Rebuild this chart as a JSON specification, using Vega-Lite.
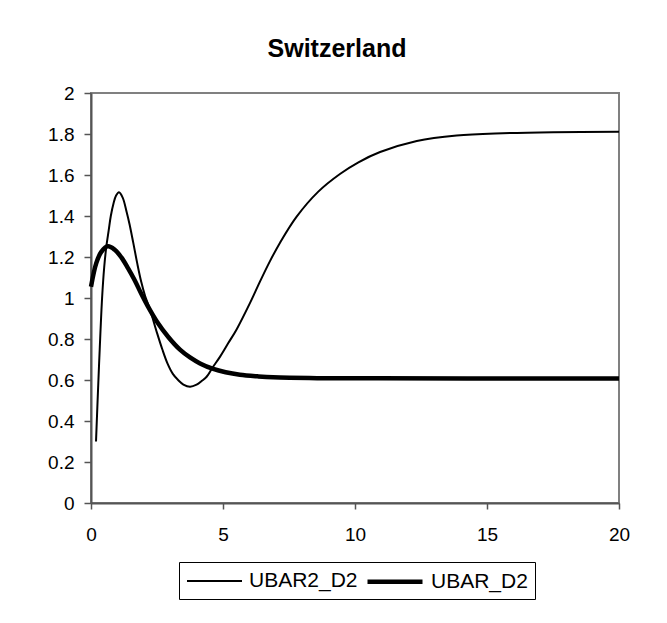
{
  "$schema": "https://vega.github.io/schema/vega-lite/v6.json",
  "width": 528,
  "height": 410,
  "autosize": {"type": "none"},
  "padding": {"left": 91, "top": 93, "right": 48, "bottom": 120},
  "background": "white",
  "title": {
    "text": "Switzerland",
    "font": "Liberation Sans",
    "fontSize": 25,
    "fontWeight": "bold",
    "color": "black",
    "anchor": "middle",
    "dx": -18,
    "offset": 22
  },
  "config": {
    "view": {"stroke": "#808080", "strokeWidth": 2},
    "axis": {
      "labelFont": "Liberation Sans",
      "labelFontSize": 19,
      "labelColor": "black",
      "grid": false,
      "title": null,
      "domainColor": "#555555",
      "domainWidth": 2,
      "tickColor": "#555555",
      "tickWidth": 1.5,
      "tickSize": 6,
      "labelFlush": false,
      "labelOverlap": false
    },
    "legend": {
      "orient": "none",
      "legendX": 88,
      "legendY": 469,
      "direction": "horizontal",
      "strokeColor": "black",
      "padding": 7,
      "labelFont": "Liberation Sans",
      "labelFontSize": 21,
      "labelColor": "black",
      "labelOffset": 41,
      "columnPadding": 0,
      "symbolType": "M-1,0H4.5",
      "symbolSize": 400,
      "symbolStrokeColor": "black",
      "symbolFillColor": "transparent",
      "title": null
    }
  },
  "data": {
    "values": [
      {"series": "UBAR2_D2", "x": 0.19, "y": 0.30},
      {"series": "UBAR2_D2", "x": 0.25, "y": 0.50},
      {"series": "UBAR2_D2", "x": 0.33, "y": 0.75},
      {"series": "UBAR2_D2", "x": 0.42, "y": 1.00},
      {"series": "UBAR2_D2", "x": 0.50, "y": 1.15},
      {"series": "UBAR2_D2", "x": 0.58, "y": 1.25},
      {"series": "UBAR2_D2", "x": 0.67, "y": 1.33},
      {"series": "UBAR2_D2", "x": 0.75, "y": 1.40},
      {"series": "UBAR2_D2", "x": 0.85, "y": 1.46},
      {"series": "UBAR2_D2", "x": 0.95, "y": 1.50},
      {"series": "UBAR2_D2", "x": 1.06, "y": 1.516},
      {"series": "UBAR2_D2", "x": 1.20, "y": 1.49},
      {"series": "UBAR2_D2", "x": 1.35, "y": 1.42},
      {"series": "UBAR2_D2", "x": 1.46, "y": 1.36},
      {"series": "UBAR2_D2", "x": 1.60, "y": 1.27},
      {"series": "UBAR2_D2", "x": 1.75, "y": 1.17},
      {"series": "UBAR2_D2", "x": 1.90, "y": 1.08},
      {"series": "UBAR2_D2", "x": 2.05, "y": 1.01},
      {"series": "UBAR2_D2", "x": 2.22, "y": 0.95},
      {"series": "UBAR2_D2", "x": 2.50, "y": 0.83},
      {"series": "UBAR2_D2", "x": 2.70, "y": 0.75},
      {"series": "UBAR2_D2", "x": 2.90, "y": 0.68},
      {"series": "UBAR2_D2", "x": 3.10, "y": 0.63},
      {"series": "UBAR2_D2", "x": 3.30, "y": 0.60},
      {"series": "UBAR2_D2", "x": 3.50, "y": 0.578},
      {"series": "UBAR2_D2", "x": 3.75, "y": 0.567},
      {"series": "UBAR2_D2", "x": 4.00, "y": 0.577},
      {"series": "UBAR2_D2", "x": 4.20, "y": 0.596},
      {"series": "UBAR2_D2", "x": 4.38, "y": 0.616},
      {"series": "UBAR2_D2", "x": 4.60, "y": 0.66},
      {"series": "UBAR2_D2", "x": 4.89, "y": 0.714},
      {"series": "UBAR2_D2", "x": 5.20, "y": 0.78},
      {"series": "UBAR2_D2", "x": 5.52, "y": 0.848},
      {"series": "UBAR2_D2", "x": 6.02, "y": 0.975},
      {"series": "UBAR2_D2", "x": 6.40, "y": 1.08},
      {"series": "UBAR2_D2", "x": 6.78, "y": 1.18},
      {"series": "UBAR2_D2", "x": 7.16, "y": 1.27},
      {"series": "UBAR2_D2", "x": 7.79, "y": 1.397},
      {"series": "UBAR2_D2", "x": 8.61, "y": 1.519},
      {"series": "UBAR2_D2", "x": 9.43, "y": 1.605},
      {"series": "UBAR2_D2", "x": 10.13, "y": 1.662},
      {"series": "UBAR2_D2", "x": 10.95, "y": 1.712},
      {"series": "UBAR2_D2", "x": 12.34, "y": 1.766},
      {"series": "UBAR2_D2", "x": 13.85, "y": 1.793},
      {"series": "UBAR2_D2", "x": 15.6, "y": 1.804},
      {"series": "UBAR2_D2", "x": 17.5, "y": 1.809},
      {"series": "UBAR2_D2", "x": 20, "y": 1.811},
      {"series": "UBAR_D2", "x": 0, "y": 1.055},
      {"series": "UBAR_D2", "x": 0.2, "y": 1.17},
      {"series": "UBAR_D2", "x": 0.39, "y": 1.225},
      {"series": "UBAR_D2", "x": 0.64, "y": 1.252},
      {"series": "UBAR_D2", "x": 0.9, "y": 1.235},
      {"series": "UBAR_D2", "x": 1.15, "y": 1.198},
      {"series": "UBAR_D2", "x": 1.4, "y": 1.146},
      {"series": "UBAR_D2", "x": 1.65, "y": 1.088},
      {"series": "UBAR_D2", "x": 1.9, "y": 1.022},
      {"series": "UBAR_D2", "x": 2.16, "y": 0.958},
      {"series": "UBAR_D2", "x": 2.5, "y": 0.884},
      {"series": "UBAR_D2", "x": 2.92, "y": 0.811},
      {"series": "UBAR_D2", "x": 3.37, "y": 0.748},
      {"series": "UBAR_D2", "x": 3.75, "y": 0.71},
      {"series": "UBAR_D2", "x": 4.13, "y": 0.681},
      {"series": "UBAR_D2", "x": 4.63, "y": 0.654},
      {"series": "UBAR_D2", "x": 5.1, "y": 0.638},
      {"series": "UBAR_D2", "x": 5.64, "y": 0.626},
      {"series": "UBAR_D2", "x": 6.3, "y": 0.618},
      {"series": "UBAR_D2", "x": 6.9, "y": 0.613},
      {"series": "UBAR_D2", "x": 8.67, "y": 0.609},
      {"series": "UBAR_D2", "x": 10.9, "y": 0.608},
      {"series": "UBAR_D2", "x": 15, "y": 0.607},
      {"series": "UBAR_D2", "x": 20, "y": 0.607}
    ]
  },
  "mark": {"type": "line", "color": "black", "interpolate": "catmull-rom", "strokeCap": "butt"},
  "encoding": {
    "x": {
      "field": "x",
      "type": "quantitative",
      "scale": {"domain": [0, 20], "nice": false, "zero": false},
      "axis": {"values": [0, 5, 10, 15, 20], "labelPadding": 16}
    },
    "y": {
      "field": "y",
      "type": "quantitative",
      "scale": {"domain": [0, 2], "nice": false},
      "axis": {
        "values": [0, 0.2, 0.4, 0.6, 0.8, 1, 1.2, 1.4, 1.6, 1.8, 2],
        "format": "~g",
        "labelPadding": 10,
        "tickSize": 7
      }
    },
    "strokeWidth": {
      "field": "series",
      "type": "nominal",
      "scale": {"domain": ["UBAR2_D2", "UBAR_D2"], "range": [2, 4.5]}
    },
    "detail": {"field": "series"}
  }
}
